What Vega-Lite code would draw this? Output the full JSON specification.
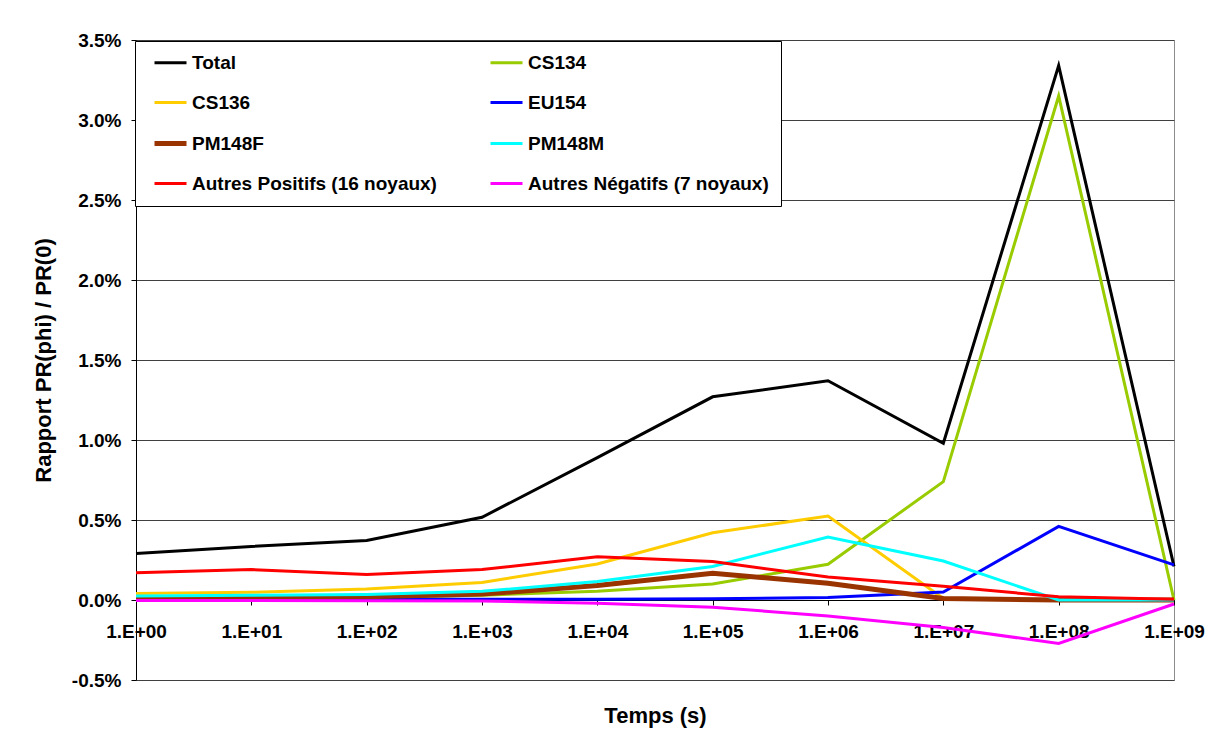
{
  "$schema": "https://vega.github.io/schema/vega-lite/v6.json",
  "width": 1038,
  "height": 640,
  "autosize": {"type": "none"},
  "padding": {"left": 136, "top": 40, "right": 39, "bottom": 74},
  "background": "white",
  "config": {
    "view": {"stroke": "#8c8c8c", "strokeWidth": 1},
    "font": "Liberation Sans"
  },
  "data": {
    "values": [
      {"series": "Total", "t": "1.E+00", "v": 0.0029},
      {"series": "Total", "t": "1.E+01", "v": 0.00335},
      {"series": "Total", "t": "1.E+02", "v": 0.00372},
      {"series": "Total", "t": "1.E+03", "v": 0.00517},
      {"series": "Total", "t": "1.E+04", "v": 0.0089},
      {"series": "Total", "t": "1.E+05", "v": 0.0127},
      {"series": "Total", "t": "1.E+06", "v": 0.0137},
      {"series": "Total", "t": "1.E+07", "v": 0.0098},
      {"series": "Total", "t": "1.E+08", "v": 0.0334},
      {"series": "Total", "t": "1.E+09", "v": 0.0021},
      {"series": "CS134", "t": "1.E+00", "v": 0.00005},
      {"series": "CS134", "t": "1.E+01", "v": 0.0001},
      {"series": "CS134", "t": "1.E+02", "v": 0.00015},
      {"series": "CS134", "t": "1.E+03", "v": 0.0003},
      {"series": "CS134", "t": "1.E+04", "v": 0.00055},
      {"series": "CS134", "t": "1.E+05", "v": 0.001},
      {"series": "CS134", "t": "1.E+06", "v": 0.00223},
      {"series": "CS134", "t": "1.E+07", "v": 0.0074},
      {"series": "CS134", "t": "1.E+08", "v": 0.0315},
      {"series": "CS134", "t": "1.E+09", "v": 0.0},
      {"series": "CS136", "t": "1.E+00", "v": 0.0004},
      {"series": "CS136", "t": "1.E+01", "v": 0.00048},
      {"series": "CS136", "t": "1.E+02", "v": 0.00069},
      {"series": "CS136", "t": "1.E+03", "v": 0.0011},
      {"series": "CS136", "t": "1.E+04", "v": 0.00225},
      {"series": "CS136", "t": "1.E+05", "v": 0.0042},
      {"series": "CS136", "t": "1.E+06", "v": 0.00525},
      {"series": "CS136", "t": "1.E+07", "v": 0.0001},
      {"series": "CS136", "t": "1.E+08", "v": 0.0},
      {"series": "CS136", "t": "1.E+09", "v": 0.0},
      {"series": "EU154", "t": "1.E+00", "v": 0.00003},
      {"series": "EU154", "t": "1.E+01", "v": 0.00003},
      {"series": "EU154", "t": "1.E+02", "v": 0.00005},
      {"series": "EU154", "t": "1.E+03", "v": 0.00005},
      {"series": "EU154", "t": "1.E+04", "v": 0.00005},
      {"series": "EU154", "t": "1.E+05", "v": 0.00008},
      {"series": "EU154", "t": "1.E+06", "v": 0.00015},
      {"series": "EU154", "t": "1.E+07", "v": 0.0005},
      {"series": "EU154", "t": "1.E+08", "v": 0.0046},
      {"series": "EU154", "t": "1.E+09", "v": 0.0022},
      {"series": "PM148F", "t": "1.E+00", "v": 0.0001},
      {"series": "PM148F", "t": "1.E+01", "v": 0.00015},
      {"series": "PM148F", "t": "1.E+02", "v": 0.0002},
      {"series": "PM148F", "t": "1.E+03", "v": 0.00037},
      {"series": "PM148F", "t": "1.E+04", "v": 0.0009},
      {"series": "PM148F", "t": "1.E+05", "v": 0.00167},
      {"series": "PM148F", "t": "1.E+06", "v": 0.00104},
      {"series": "PM148F", "t": "1.E+07", "v": 0.0001},
      {"series": "PM148F", "t": "1.E+08", "v": 0.0},
      {"series": "PM148F", "t": "1.E+09", "v": 0.0},
      {"series": "PM148M", "t": "1.E+00", "v": 0.00025},
      {"series": "PM148M", "t": "1.E+01", "v": 0.0003},
      {"series": "PM148M", "t": "1.E+02", "v": 0.00035},
      {"series": "PM148M", "t": "1.E+03", "v": 0.00054},
      {"series": "PM148M", "t": "1.E+04", "v": 0.00115},
      {"series": "PM148M", "t": "1.E+05", "v": 0.0021},
      {"series": "PM148M", "t": "1.E+06", "v": 0.00394},
      {"series": "PM148M", "t": "1.E+07", "v": 0.00244},
      {"series": "PM148M", "t": "1.E+08", "v": 0.0},
      {"series": "PM148M", "t": "1.E+09", "v": 0.0},
      {"series": "Autres Positifs (16 noyaux)", "t": "1.E+00", "v": 0.0017},
      {"series": "Autres Positifs (16 noyaux)", "t": "1.E+01", "v": 0.0019},
      {"series": "Autres Positifs (16 noyaux)", "t": "1.E+02", "v": 0.0016},
      {"series": "Autres Positifs (16 noyaux)", "t": "1.E+03", "v": 0.0019},
      {"series": "Autres Positifs (16 noyaux)", "t": "1.E+04", "v": 0.0027},
      {"series": "Autres Positifs (16 noyaux)", "t": "1.E+05", "v": 0.0024},
      {"series": "Autres Positifs (16 noyaux)", "t": "1.E+06", "v": 0.00144},
      {"series": "Autres Positifs (16 noyaux)", "t": "1.E+07", "v": 0.00086},
      {"series": "Autres Positifs (16 noyaux)", "t": "1.E+08", "v": 0.0002},
      {"series": "Autres Positifs (16 noyaux)", "t": "1.E+09", "v": 0.00005},
      {"series": "Autres Négatifs (7 noyaux)", "t": "1.E+00", "v": -0.00003},
      {"series": "Autres Négatifs (7 noyaux)", "t": "1.E+01", "v": -0.00003},
      {"series": "Autres Négatifs (7 noyaux)", "t": "1.E+02", "v": -0.00004},
      {"series": "Autres Négatifs (7 noyaux)", "t": "1.E+03", "v": -0.00006},
      {"series": "Autres Négatifs (7 noyaux)", "t": "1.E+04", "v": -0.0002},
      {"series": "Autres Négatifs (7 noyaux)", "t": "1.E+05", "v": -0.00045},
      {"series": "Autres Négatifs (7 noyaux)", "t": "1.E+06", "v": -0.001},
      {"series": "Autres Négatifs (7 noyaux)", "t": "1.E+07", "v": -0.00172},
      {"series": "Autres Négatifs (7 noyaux)", "t": "1.E+08", "v": -0.00272},
      {"series": "Autres Négatifs (7 noyaux)", "t": "1.E+09", "v": -0.00025}
    ]
  },
  "mark": {"type": "line", "strokeJoin": "miter", "strokeCap": "butt"},
  "encoding": {
    "x": {
      "field": "t",
      "type": "ordinal",
      "scale": {"type": "point", "padding": 0},
      "axis": {
        "offset": -80,
        "labelAngle": 0,
        "domainColor": "#000000",
        "domainWidth": 1,
        "tickColor": "#000000",
        "tickSize": 5,
        "labelPadding": 17,
        "labelFont": "Liberation Sans",
        "labelFontSize": 19,
        "labelFontWeight": "bold",
        "labelColor": "#000000",
        "labelOverlap": false,
        "labelBound": false,
        "title": "Temps (s)",
        "titleFont": "Liberation Sans",
        "titleFontSize": 22,
        "titleFontWeight": "bold",
        "titleColor": "#000000",
        "titlePadding": 64
      }
    },
    "y": {
      "field": "v",
      "type": "quantitative",
      "scale": {"domain": [-0.005, 0.035], "nice": false, "zero": false},
      "axis": {
        "values": [-0.005, 0, 0.005, 0.01, 0.015, 0.02, 0.025, 0.03, 0.035],
        "labelExpr": "replace(format(datum.value, '.1%'), '\u2212', '-')",
        "grid": true,
        "gridColor": "#404040",
        "gridWidth": 1,
        "domainColor": "#000000",
        "tickColor": "#000000",
        "tickSize": 5,
        "labelPadding": 10,
        "labelFont": "Liberation Sans",
        "labelFontSize": 19,
        "labelFontWeight": "bold",
        "labelColor": "#000000",
        "title": "Rapport PR(phi) / PR(0)",
        "titleFont": "Liberation Sans",
        "titleFontSize": 22,
        "titleFontWeight": "bold",
        "titleColor": "#000000",
        "titlePadding": 16
      }
    },
    "color": {
      "field": "series",
      "type": "nominal",
      "scale": {
        "domain": ["Total", "CS134", "CS136", "EU154", "PM148F", "PM148M", "Autres Positifs (16 noyaux)", "Autres Négatifs (7 noyaux)"],
        "range": ["#000000", "#99CC00", "#FFCC00", "#0000FF", "#993300", "#00FFFF", "#FF0000", "#FF00FF"]
      },
      "legend": {
        "orient": "none",
        "legendX": -1,
        "legendY": 1,
        "direction": "horizontal",
        "columns": 2,
        "columnPadding": 46,
        "rowPadding": 20,
        "padding": 12,
        "symbolOffset": 14,
        "title": null,
        "symbolType": "stroke",
        "symbolSize": 1024,
        "symbolStrokeWidth": 3,
        "labelFont": "Liberation Sans",
        "labelFontSize": 19,
        "labelFontWeight": "bold",
        "labelColor": "#000000",
        "labelOffset": 12,
        "labelLimit": 400,
        "strokeColor": "#000000",
        "fillColor": "#ffffff",
        "encode": {
          "symbols": {
            "update": {
              "strokeWidth": {"signal": "datum.value === 'PM148F' ? 5 : 3"}
            }
          }
        }
      }
    },
    "strokeWidth": {
      "condition": {"test": "datum.series === 'PM148F'", "value": 5},
      "value": 3
    }
  }
}
